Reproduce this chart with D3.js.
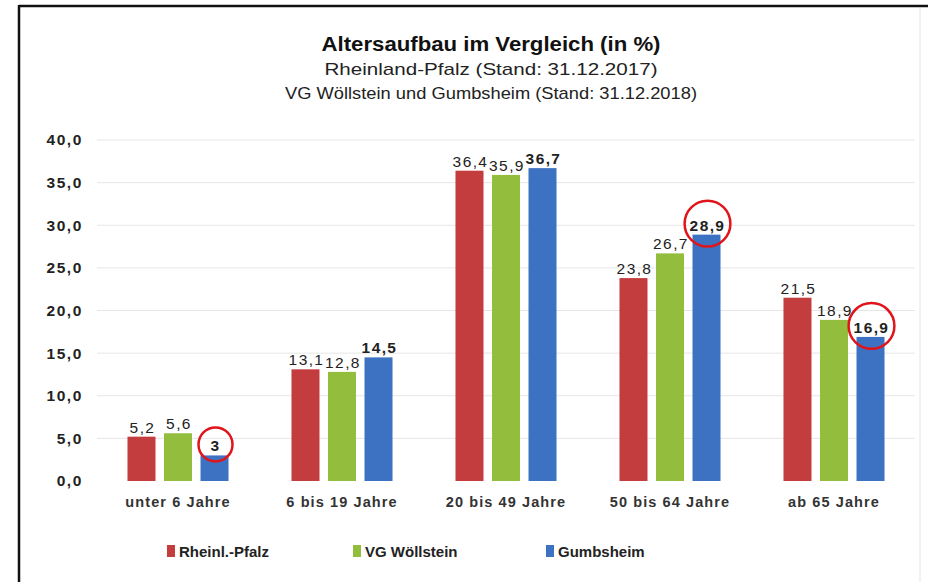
<!DOCTYPE html>
<html>
<head>
<meta charset="utf-8">
<script src="https://cdn.jsdelivr.net/npm/d3@7"></script>
<style>
  body { margin: 0; background: #fff; }
  svg { display: block; font-family: "Liberation Sans", Arial, sans-serif; }
</style>
</head>
<body>
<div class="graphics"></div>
<script>
// daten
const categories = ["unter 6 Jahre", "6 bis 19 Jahre", "20 bis 49 Jahre", "50 bis 64 Jahre", "ab 65 Jahre"];
const seriesNames = ["Rheinl.-Pfalz", "VG Wöllstein", "Gumbsheim"];
const rlp = [5.2, 13.1, 36.4, 23.8, 21.5];
const woellstein = [5.6, 12.8, 35.9, 26.7, 18.9];
const gumbsheim = [3, 14.5, 36.7, 28.9, 16.9];
const yTicks = [0, 5, 10, 15, 20, 25, 30, 35, 40];
const markiert = [0, 3, 4]; // rot eingekreiste Werte (Gumbsheim)
const farben = ["#c33c3e", "#93bd3c", "#3d72c3"];

const width = 928;
const height = 582;

const werte = [rlp, woellstein, gumbsheim];
const table = categories.map((c, i) => ({
  cat: c,
  vals: seriesNames.map((s, j) => ({ s: s, j: j, v: werte[j][i], i: i }))
}));

const komma = v => String(v).replace(".", ",");

const svg = d3.select(".graphics")
  .append("svg")
  .attr("width", width)
  .attr("height", height);

svg.append("rect").attr("width", width).attr("height", height).attr("fill", "#fff");

// rahmen
svg.append("line").attr("x1", 19).attr("x2", width).attr("y1", 6).attr("y2", 6)
  .attr("stroke", "#111").attr("stroke-width", 2.5);
svg.append("line").attr("x1", 19).attr("x2", 19).attr("y1", 5).attr("y2", height)
  .attr("stroke", "#111").attr("stroke-width", 2.5);
svg.append("line").attr("x1", 920).attr("x2", 920).attr("y1", 8).attr("y2", height)
  .attr("stroke", "#e4e4e4").attr("stroke-width", 1);

// titel
svg.append("text").attr("x", 491).attr("y", 51).attr("text-anchor", "middle")
  .attr("font-size", 20).attr("font-weight", "bold").attr("fill", "#111")
  .attr("textLength", 339).attr("lengthAdjust", "spacingAndGlyphs")
  .text("Altersaufbau im Vergleich (in %)");
svg.append("text").attr("x", 491).attr("y", 75).attr("text-anchor", "middle")
  .attr("font-size", 17).attr("fill", "#222")
  .attr("textLength", 333).attr("lengthAdjust", "spacingAndGlyphs")
  .text("Rheinland-Pfalz (Stand: 31.12.2017)");
svg.append("text").attr("x", 491).attr("y", 99).attr("text-anchor", "middle")
  .attr("font-size", 17).attr("fill", "#222")
  .attr("textLength", 412).attr("lengthAdjust", "spacingAndGlyphs")
  .text("VG Wöllstein und Gumbsheim (Stand: 31.12.2018)");

const x0 = d3.scaleBand().domain(categories)
  .range([96, 916])
  .paddingInner(0.384)
  .paddingOuter(0.192);

const x1 = d3.scaleBand().domain(seriesNames)
  .range([0, x0.bandwidth()])
  .paddingInner(0.233);

const y = d3.scaleLinear().domain([0, 40]).range([481, 140]);

// gitter
svg.append("g")
  .selectAll("line")
  .data(yTicks.slice(1))
  .join("line")
  .attr("x1", 97).attr("x2", 915)
  .attr("y1", d => y(d)).attr("y2", d => y(d))
  .attr("stroke", "#e6e6e6").attr("stroke-width", 1);

// y achse
const yAxis = svg.append("g")
  .attr("transform", "translate(83,0)")
  .call(d3.axisLeft(y).tickValues(yTicks).tickSize(0).tickPadding(0)
    .tickFormat(d => d3.format(".1f")(d).replace(".", ",")));
yAxis.select(".domain").remove();
yAxis.selectAll("text")
  .attr("font-size", 15.5).attr("font-weight", "bold").attr("fill", "#222")
  .attr("letter-spacing", 1.6)
  .attr("font-family", "Liberation Sans, Arial, sans-serif");

// x achse
const xAxis = svg.append("g")
  .attr("transform", "translate(0,481)")
  .call(d3.axisBottom(x0).tickSize(0).tickPadding(16));
xAxis.select(".domain").remove();
xAxis.selectAll("text")
  .attr("font-size", 14.5).attr("font-weight", "bold").attr("fill", "#333")
  .attr("letter-spacing", 1.1)
  .attr("font-family", "Liberation Sans, Arial, sans-serif");

// balken
const gruppen = svg.append("g")
  .selectAll("g")
  .data(table)
  .join("g")
  .attr("transform", d => `translate(${x0(d.cat)},0)`);

gruppen.selectAll("rect")
  .data(d => d.vals)
  .join("rect")
  .attr("x", d => x1(d.s))
  .attr("y", d => y(d.v))
  .attr("width", x1.bandwidth())
  .attr("height", d => y(0) - y(d.v))
  .attr("fill", d => farben[d.j]);

const labels = gruppen.selectAll("text.wert")
  .data(d => d.vals)
  .join("text")
  .attr("class", "wert")
  .attr("x", d => x1(d.s) + x1.bandwidth() / 2 + 1)
  .attr("y", d => y(d.v) - 4)
  .attr("text-anchor", "middle")
  .attr("font-size", 15.5)
  .attr("letter-spacing", 1.4)
  .attr("font-weight", d => d.j === 2 ? "bold" : "normal")
  .attr("fill", "#222")
  .text(d => komma(d.v));

// rote kreise
labels.each(function(d) {
  if (d.j !== 2 || !markiert.includes(d.i)) return;
  const w = this.getComputedTextLength();
  d3.select(this.parentNode).append("circle")
    .attr("cx", x1(d.s) + x1.bandwidth() / 2 + 1)
    .attr("cy", y(d.v) - 11)
    .attr("r", Math.max(17, w / 2 + 5))
    .attr("fill", "none")
    .attr("stroke", "#e0141b")
    .attr("stroke-width", 2.5);
});

// legende
const legX = [167, 353, 546];
const leg = svg.append("g")
  .selectAll("g")
  .data(seriesNames)
  .join("g")
  .attr("transform", (d, i) => `translate(${legX[i]},551)`);
leg.append("rect").attr("x", 0).attr("y", -6).attr("width", 8).attr("height", 12)
  .attr("fill", (d, i) => farben[i]);
leg.append("text").attr("x", 12).attr("y", 6)
  .attr("font-size", 15).attr("font-weight", "bold").attr("fill", "#222")
  .text(d => d);
</script>
</body>
</html>
